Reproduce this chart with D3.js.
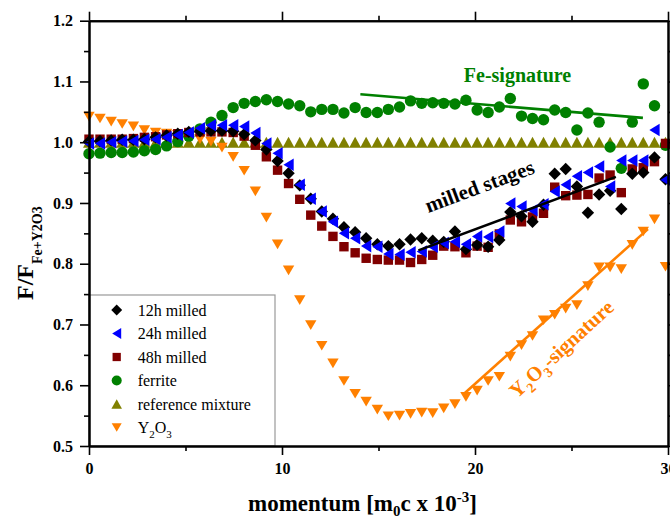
<!DOCTYPE html>
<html><head><meta charset="utf-8">
<script src="https://cdn.jsdelivr.net/npm/d3@7"></script>
<style>
html,body{margin:0;padding:0;background:#fff;}
svg text{font-family:"Liberation Serif","Times New Roman",serif;}
</style></head><body>
<svg id="chart" width="670" height="518"></svg>
<script>
// momentum channels (m0c x 10^-3)
const momentum = [0.00,0.57,1.15,1.72,2.30,2.87,3.45,4.02,4.60,5.17,5.75,6.32,6.89,7.47,8.04,8.62,9.19,9.77,10.34,10.92,11.49,12.06,12.64,13.21,13.79,14.36,14.94,15.51,16.09,16.66,17.24,17.81,18.38,18.96,19.53,20.11,20.68,21.26,21.83,22.41,22.98,23.55,24.13,24.70,25.28,25.85,26.43,27.00,27.58,28.15,28.72,29.30,29.87];

// ratio curves F / F(Fe+Y2O3)
const milled12h = [1.001,1.002,1.003,1.004,1.004,1.005,1.008,1.011,1.014,1.017,1.018,1.019,1.019,1.018,1.013,1.003,0.988,0.969,0.949,0.929,0.907,0.886,0.874,0.860,0.852,0.842,0.832,0.829,0.832,0.840,0.842,0.838,0.836,0.853,0.824,0.831,0.828,0.839,0.885,0.878,0.869,0.897,0.948,0.956,0.927,0.884,0.914,0.920,0.890,0.948,0.950,0.975,0.939];
const milled24h = [0.998,0.998,1.000,1.001,1.002,1.004,1.005,1.008,1.012,1.016,1.023,1.028,1.028,1.028,1.026,1.015,0.998,0.982,0.963,0.930,0.907,0.886,0.869,0.850,0.842,0.829,0.828,0.816,0.815,0.819,0.820,0.828,0.834,0.836,0.832,0.845,0.844,0.853,0.899,0.894,0.888,0.898,0.919,0.930,0.944,0.950,0.960,0.927,0.970,0.970,0.970,1.020,0.938];
const milled48h = [1.005,1.005,1.005,1.005,1.006,1.008,1.009,1.012,1.014,1.016,1.017,1.017,1.017,1.016,1.010,0.995,0.976,0.954,0.932,0.906,0.880,0.862,0.845,0.828,0.818,0.809,0.807,0.806,0.806,0.802,0.807,0.814,0.829,0.828,0.818,0.829,0.827,0.849,0.872,0.869,0.877,0.883,0.926,0.912,0.913,0.914,0.941,0.946,0.917,0.956,0.958,0.968,0.998];
const ferrite = [0.981,0.982,0.983,0.983,0.984,0.986,0.988,0.994,1.001,1.010,1.022,1.033,1.044,1.057,1.064,1.067,1.070,1.067,1.063,1.060,1.050,1.054,1.054,1.048,1.057,1.049,1.049,1.054,1.058,1.068,1.064,1.065,1.064,1.063,1.069,1.053,1.049,1.058,1.072,1.043,1.039,1.037,1.053,1.049,1.020,1.048,1.033,0.992,0.957,1.033,1.096,1.060,0.995];
const referenceMixture = [1.000,1.000,1.000,1.000,1.000,1.000,1.000,1.000,1.000,1.000,1.000,1.000,1.000,1.000,1.000,1.000,1.000,1.000,1.000,1.000,1.000,1.000,1.000,1.000,1.000,1.000,1.000,1.000,1.000,1.000,1.000,1.000,1.000,1.000,1.000,1.000,1.000,1.000,1.000,1.000,1.000,1.000,1.000,1.000,1.000,1.000,1.000,1.000,1.000,1.000,1.000,1.000,1.000];
const y2o3 = [1.042,1.039,1.034,1.030,1.026,1.020,1.016,1.014,1.012,1.008,1.005,1.001,0.991,0.976,0.953,0.919,0.876,0.832,0.789,0.740,0.699,0.665,0.636,0.607,0.586,0.573,0.560,0.549,0.550,0.553,0.555,0.554,0.562,0.569,0.581,0.591,0.607,0.614,0.647,0.666,0.681,0.707,0.716,0.726,0.732,0.763,0.794,0.794,0.791,0.831,0.853,0.873,0.795];

// linear trend segments [momentum, ratio]
const feFit = [[14.06,1.079],[28.70,1.040]];
const milledFit = [[17.07,0.822],[27.30,0.943]];
const y2o3Fit = [[19.36,0.584],[28.96,0.857]];

// axis ticks
const xMajor = [0,10,20,30];
const xMinor = [5,15,25];
const yMajor = [0.5,0.6,0.7,0.8,0.9,1.0,1.1,1.2];
const yMinor = [0.55,0.65,0.75,0.85,0.95,1.05,1.15];

const svg = d3.select('#chart');
const x = d3.scaleLinear().domain([0,30]).range([89,668]);
const y = d3.scaleLinear().domain([0.5,1.2]).range([446,20.7]);

// marker shapes
const shapes = {
  diamond: (s)=>`M0,${-s}L${s},0L0,${s}L${-s},0Z`,
  square: (s)=>`M${-s},${-s}h${2*s}v${2*s}h${-2*s}Z`,
  left: (s)=>`M${-s*0.9},0L${s*0.9},${-s*1.1}L${s*0.9},${s*1.1}Z`,
  up: (s)=>`M0,${-s*0.95}L${s*1.05},${s*0.95}L${-s*1.05},${s*0.95}Z`,
  down: (s)=>`M0,${s*0.85}L${-s},${-s*0.85}L${s},${-s*0.85}Z`,
  circle: (s)=>d3.symbol(d3.symbolCircle, Math.PI*s*s)()
};

const series = [
  {name:'reference mixture', values:referenceMixture, shape:'up', size:5.7, color:'#808000'},
  {name:'Y2O3', values:y2o3, shape:'down', size:5.7, color:'#ff8000'},
  {name:'ferrite', values:ferrite, shape:'circle', size:5.7, color:'#008000'},
  {name:'48h milled', values:milled48h, shape:'square', size:4.7, color:'#800000'},
  {name:'12h milled', values:milled12h, shape:'diamond', size:6.2, color:'#000000'},
  {name:'24h milled', values:milled24h, shape:'left', size:5.7, color:'#0000ff'}
];

const plot = svg.append('g');
series.forEach(s=>{
  plot.append('g').selectAll('path')
    .data(momentum.map((m,i)=>[m,s.values[i]]))
    .join('path')
    .attr('d', shapes[s.shape](s.size))
    .attr('transform', d=>`translate(${x(d[0])},${y(d[1])})`)
    .attr('fill', s.color);
});

// trend lines
const line = d3.line().x(d=>x(d[0])).y(d=>y(d[1]));
[[feFit,'#008000'],[milledFit,'#000000'],[y2o3Fit,'#ff8000']].forEach(([pts,c])=>{
  plot.append('path').attr('d', line(pts)).attr('fill','none')
    .attr('stroke', c).attr('stroke-width', 2.6);
});

// annotations
svg.append('text').attr('x',517.5).attr('y',82).attr('text-anchor','middle')
  .attr('font-weight','bold').attr('font-size',20).attr('fill','#008000').text('Fe-signature');
svg.append('text').attr('transform','translate(482,193) rotate(-20.5)').attr('text-anchor','middle')
  .attr('font-weight','bold').attr('font-size',21).attr('fill','#000').text('milled stages');
const ys = svg.append('text').attr('transform','translate(566,354) rotate(-42.5)').attr('text-anchor','middle')
  .attr('font-weight','bold').attr('font-size',20.5).attr('fill','#ff8000');
ys.append('tspan').text('Y');
ys.append('tspan').attr('font-size',14).attr('dy',6).text('2');
ys.append('tspan').attr('dy',-6).text('O');
ys.append('tspan').attr('font-size',14).attr('dy',6).text('3');
ys.append('tspan').attr('dy',-6).text('-signature');

// legend
const legendOrder = ['12h milled','24h milled','48h milled','ferrite','reference mixture','Y2O3'];
const lg = svg.append('g');
lg.append('rect').attr('x',89).attr('y',295).attr('width',186).attr('height',151)
  .attr('fill','#fff').attr('stroke','#999').attr('stroke-width',1.2);
legendOrder.forEach((name,k)=>{
  const s = series.find(d=>d.name===name);
  const cy = 310 + k*23.5;
  lg.append('path').attr('d', shapes[s.shape](s.size*0.88))
    .attr('transform',`translate(116.7,${cy})`).attr('fill', s.color);
  const t = lg.append('text').attr('x',137.7).attr('y',cy+5.5).attr('font-size',16).attr('fill','#000');
  if(name==='Y2O3'){
    t.append('tspan').text('Y');
    t.append('tspan').attr('font-size',11).attr('dy',5).text('2');
    t.append('tspan').attr('dy',-5).text('O');
    t.append('tspan').attr('font-size',11).attr('dy',5).text('3');
  } else t.text(name);
});

// axes
function styleAxis(g){
  g.select('.domain').attr('stroke','#000').attr('stroke-width',2);
  g.selectAll('.tick line').attr('stroke','#000').attr('stroke-width',1.6);
  g.selectAll('.tick text').attr('font-family','"Liberation Serif","Times New Roman",serif')
    .attr('font-weight','bold').attr('font-size',16).attr('fill','#000');
}
const fmtY = d3.format('.1f');
svg.append('g').attr('transform','translate(0,446)')
  .call(d3.axisBottom(x).tickValues(xMajor).tickSize(9).tickSizeOuter(0).tickPadding(8).tickFormat(d3.format('d'))).call(styleAxis);
svg.append('g').attr('transform','translate(0,446)')
  .call(d3.axisBottom(x).tickValues(xMinor).tickSize(5).tickSizeOuter(0).tickFormat('')).call(styleAxis);
svg.append('g').attr('transform','translate(0,20.7)')
  .call(d3.axisTop(x).tickValues(xMajor).tickSize(9).tickSizeOuter(0).tickFormat('')).call(styleAxis);
svg.append('g').attr('transform','translate(0,20.7)')
  .call(d3.axisTop(x).tickValues(xMinor).tickSize(5).tickSizeOuter(0).tickFormat('')).call(styleAxis);
svg.append('g').attr('transform','translate(89,0)')
  .call(d3.axisLeft(y).tickValues(yMajor).tickSize(9).tickSizeOuter(0).tickPadding(7).tickFormat(fmtY)).call(styleAxis);
svg.append('g').attr('transform','translate(89,0)')
  .call(d3.axisLeft(y).tickValues(yMinor).tickSize(5).tickSizeOuter(0).tickFormat('')).call(styleAxis);
svg.append('g').attr('transform','translate(668,0)')
  .call(d3.axisRight(y).tickValues(yMajor).tickSize(9).tickSizeOuter(0).tickFormat('')).call(styleAxis);
svg.append('g').attr('transform','translate(668,0)')
  .call(d3.axisRight(y).tickValues(yMinor).tickSize(5).tickSizeOuter(0).tickFormat('')).call(styleAxis);

// axis titles
const xl = svg.append('text').attr('x',248).attr('y',511).attr('font-weight','bold').attr('font-size',23).attr('fill','#000');
xl.append('tspan').text('momentum [m');
xl.append('tspan').attr('font-size',15).attr('dy',5).text('0');
xl.append('tspan').attr('dy',-5).text('c x 10');
xl.append('tspan').attr('font-size',15).attr('dy',-9).text('-3');
xl.append('tspan').attr('dy',9).text(']');

const yl = svg.append('text').attr('transform','translate(33,300) rotate(-90)')
  .attr('font-weight','bold').attr('font-size',24).attr('fill','#000');
yl.append('tspan').text('F/F');
yl.append('tspan').attr('font-size',14).attr('dy',9).text('Fe+Y2O3');
</script>
</body></html>
